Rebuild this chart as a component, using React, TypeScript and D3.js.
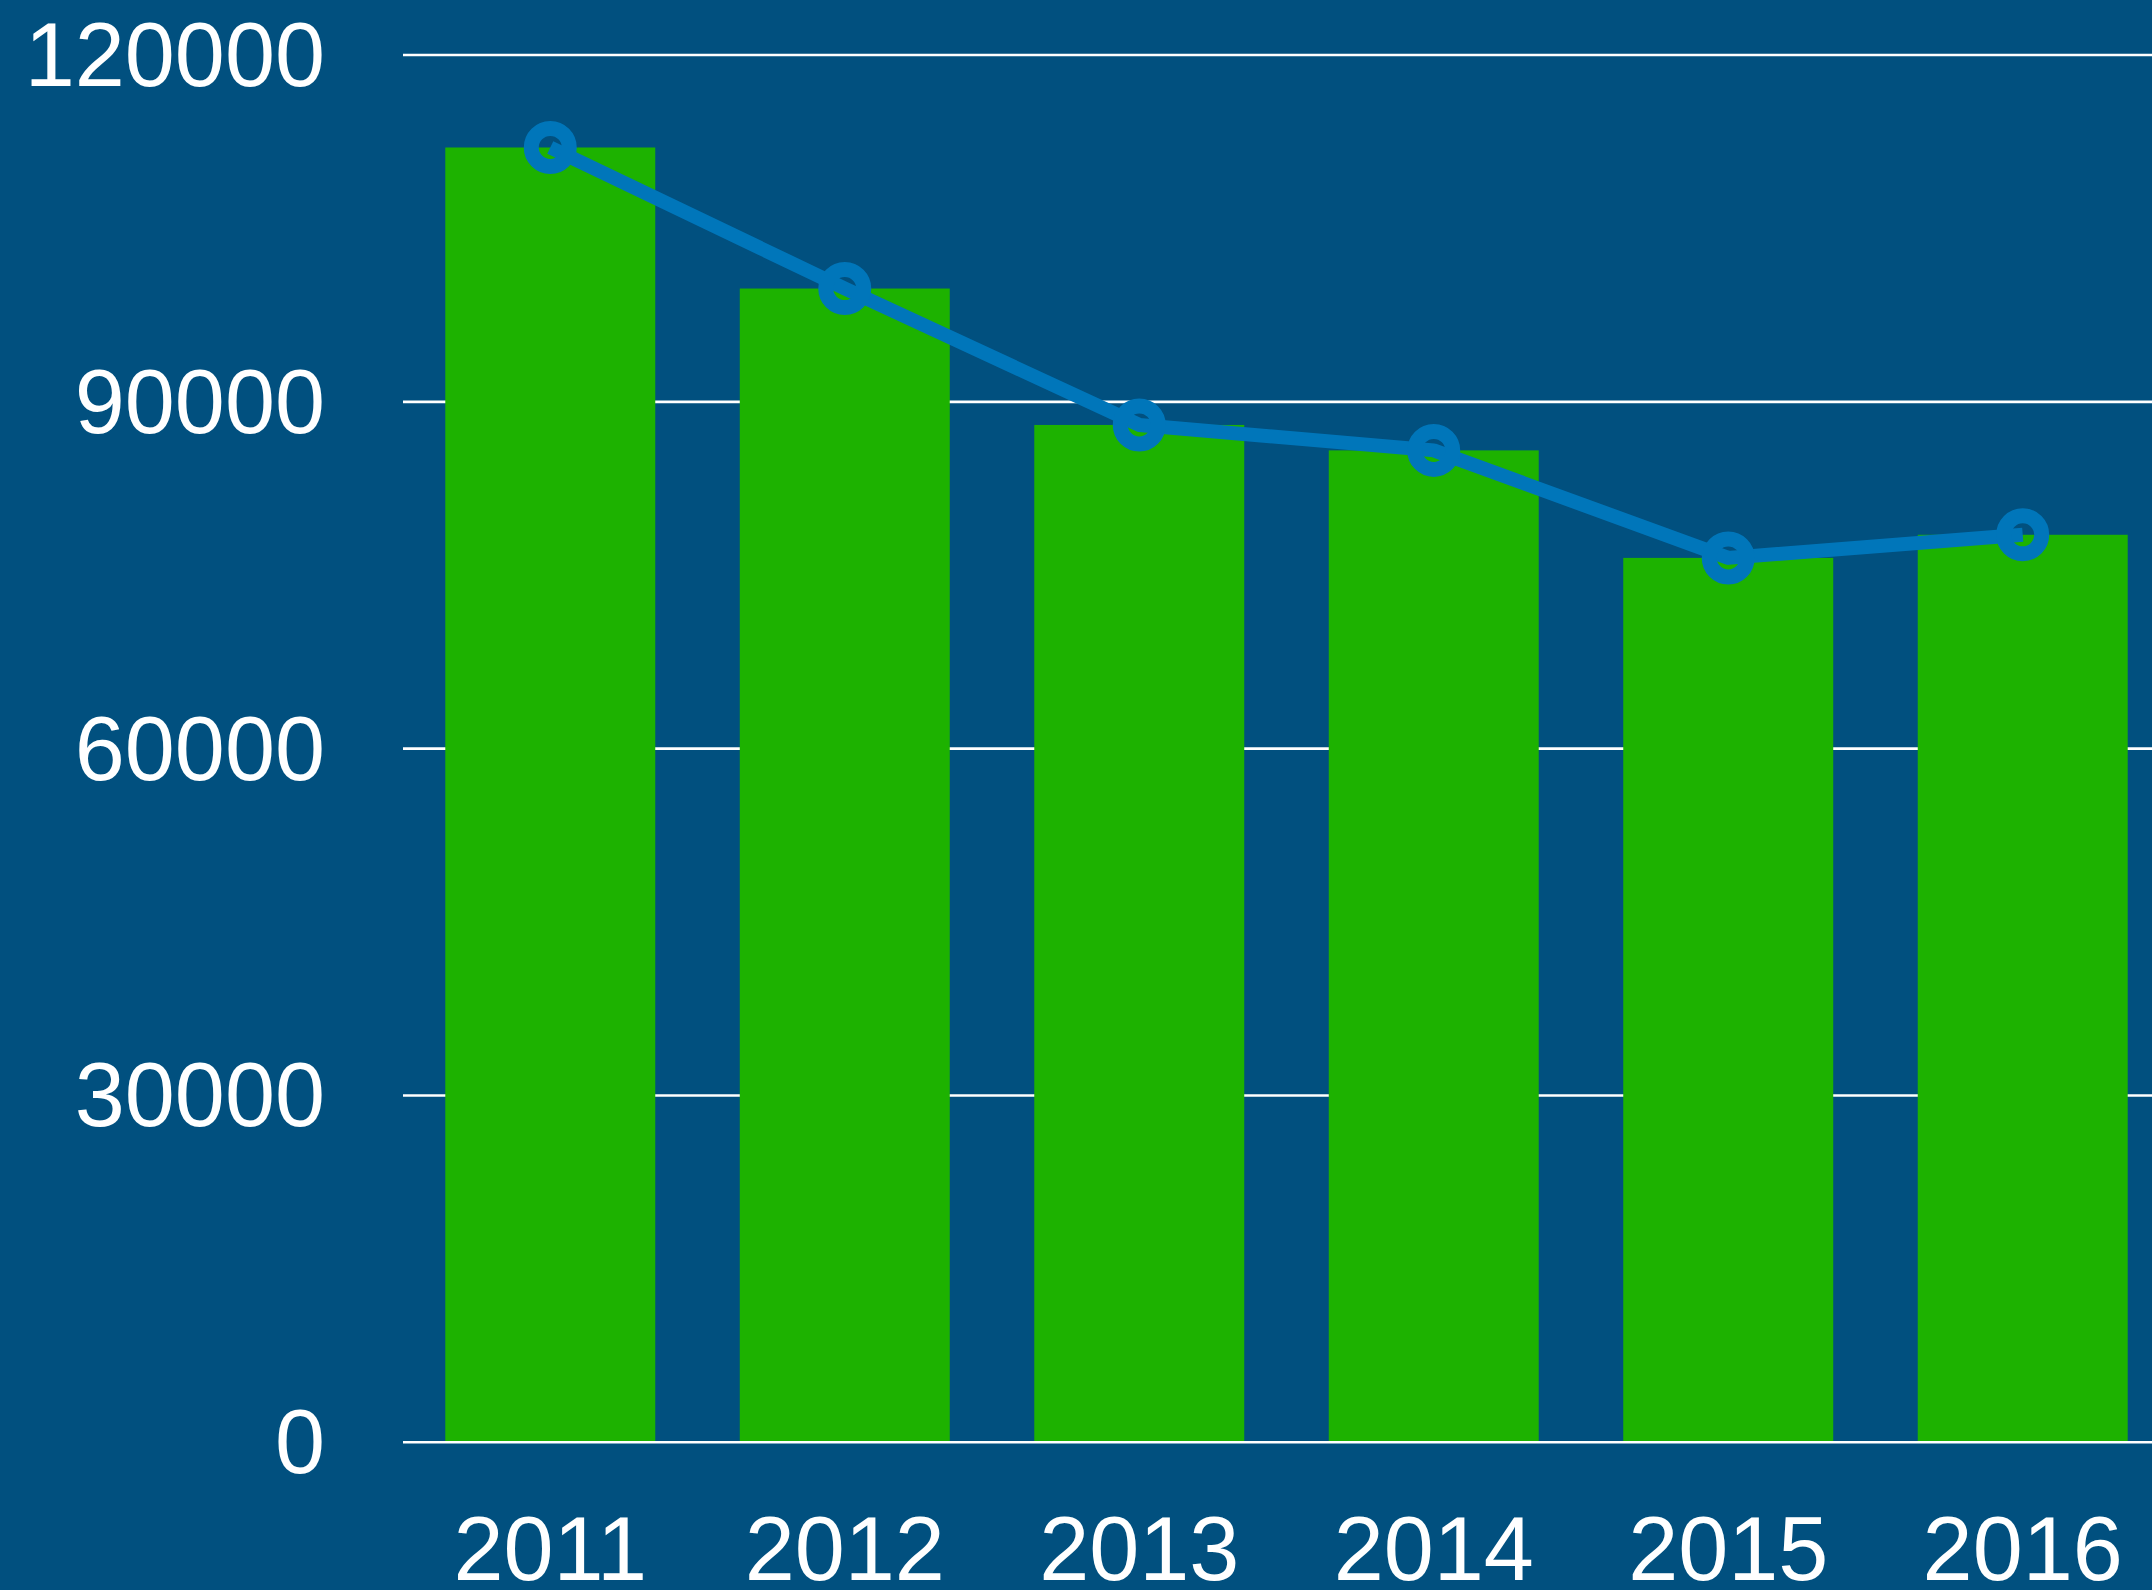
import React, { useEffect } from "react";
import * as d3 from "d3";

const years = ["2011", "2012", "2013", "2014", "2015", "2016"];
const barValues = [112000, 99800, 88000, 85800, 76500, 78500];
const lineValues = [112000, 99800, 88000, 85800, 76500, 78500];
const yTicks = [0, 30000, 60000, 90000, 120000];

const W = 2152;
const H = 1590;
const BG = "#01507F";
const GREEN = "#1DB200";
const BLUE = "#0076BA";
const FONT = "'Liberation Sans', Arial, Helvetica, sans-serif";

export default function App() {
  useEffect(() => {
    document.body.style.margin = "0";
    document.body.style.background = BG;
  }, []);

  const x = d3
    .scaleBand<string>()
    .domain(years)
    .range([403, 2170])
    .paddingInner(0.287)
    .paddingOuter(0.1436);
  const y = d3.scaleLinear().domain([0, 120000]).range([1442.3, 55]);

  const pts: [number, number][] = years.map((yr, i) => [
    (x(yr) as number) + x.bandwidth() / 2,
    y(lineValues[i]),
  ]);
  const line = d3.line()(pts) as string;

  return (
    <svg
      width={W}
      height={H}
      viewBox={`0 0 ${W} ${H}`}
      style={{ position: "absolute", left: 0, top: 0, display: "block" }}
    >
      <rect x={0} y={0} width={W} height={H} fill={BG} />
      {yTicks.map((t) => (
        <g key={t}>
          <line x1={403} x2={W} y1={y(t)} y2={y(t)} stroke="#ffffff" strokeWidth={2.6} />
          <text
            x={325}
            y={y(t) + 31}
            textAnchor="end"
            fill="#ffffff"
            fontFamily={FONT}
            fontSize={90}
          >
            {t}
          </text>
        </g>
      ))}
      {years.map((yr, i) => (
        <rect
          key={yr}
          x={x(yr)}
          y={y(barValues[i])}
          width={x.bandwidth()}
          height={y(0) - 1.3 - y(barValues[i])}
          fill={GREEN}
        />
      ))}
      {years.map((yr) => (
        <text
          key={yr}
          x={(x(yr) as number) + x.bandwidth() / 2}
          y={1580}
          textAnchor="middle"
          fill="#ffffff"
          fontFamily={FONT}
          fontSize={90}
        >
          {yr}
        </text>
      ))}
      <path d={line} fill="none" stroke={BLUE} strokeWidth={14} strokeLinejoin="round" />
      {pts.map((p, i) => (
        <circle key={i} cx={p[0]} cy={p[1]} r={19} fill="none" stroke={BLUE} strokeWidth={15} />
      ))}
    </svg>
  );
}
